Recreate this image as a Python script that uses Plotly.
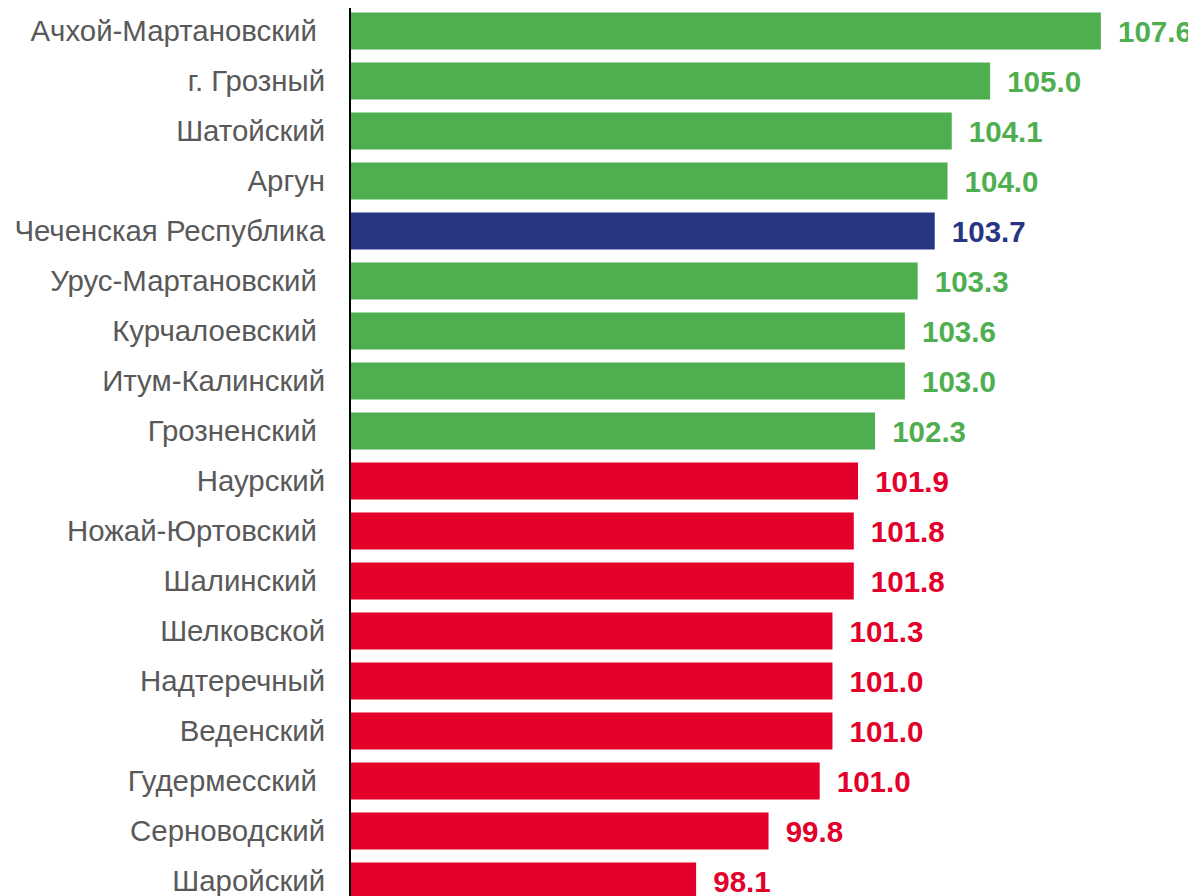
import plotly.graph_objects as go

NBSP = "\u00a0"
THIN = "\u2009"

regions = [
    "Ачхой-Мартановский" + NBSP,
    "г. Грозный",
    "Шатойский",
    "Аргун",
    "Чеченская Республика",
    "Урус-Мартановский" + NBSP,
    "Курчалоевский" + NBSP,
    "Итум-Калинский",
    "Грозненский" + NBSP,
    "Наурский",
    "Ножай-Юртовский" + NBSP,
    "Шалинский" + NBSP,
    "Шелковской",
    "Надтеречный",
    "Веденский",
    "Гудермесский" + NBSP,
    "Серноводский",
    "Шаройский",
]

# bar lengths as drawn in the picture (axis starts at 90)
bar_values = [107.6, 105.0, 104.1, 104.0, 103.7, 103.3, 103.0, 103.0, 102.3,
              101.9, 101.8, 101.8, 101.3, 101.3, 101.3, 101.0, 99.8, 98.1]

# value labels as printed next to the bars
value_labels = ["107.6", "105.0", "104.1", "104.0", "103.7", "103.3", "103.6", "103.0", "102.3",
                "101.9", "101.8", "101.8", "101.3", "101.0", "101.0", "101.0", "99.8", "98.1"]

groups = ["up", "up", "up", "up", "total", "up", "up", "up", "up",
          "down", "down", "down", "down", "down", "down", "down", "down", "down"]

AXIS_START = 90

GROUP_COLORS = {"up": "#4FAF50", "total": "#283583", "down": "#E3002A"}
colors = [GROUP_COLORS[g] for g in groups]

fig = go.Figure()

fig.add_trace(go.Bar(
    x=[v - AXIS_START for v in bar_values],
    y=regions,
    orientation="h",
    base=AXIS_START,
    marker=dict(color=colors, line=dict(width=0)),
    text=[NBSP + THIN + t for t in value_labels],
    textposition="outside",
    textfont=dict(family="Liberation Sans", size=29.5, color=colors, weight="bold"),
    constraintext="none",
    cliponaxis=False,
    showlegend=False,
    hoverinfo="skip",
))

fig.update_layout(
    width=1196,
    height=896,
    margin=dict(l=343, r=0, t=0, b=0),
    paper_bgcolor="white",
    plot_bgcolor="white",
    bargap=0.26,
    font=dict(family="Liberation Sans"),
    xaxis=dict(
        range=[AXIS_START, 110.02],
        visible=False,
        showgrid=False,
        zeroline=False,
    ),
    yaxis=dict(
        type="category",
        categoryorder="array",
        categoryarray=regions,
        range=[17.46, -0.46],
        showline=True,
        linecolor="black",
        linewidth=2,
        showgrid=False,
        zeroline=False,
        ticks="",
        ticklabelstandoff=18,
        tickfont=dict(family="Liberation Sans", size=29.4, color="#595959"),
    ),
)

fig.write_html("out.html")
